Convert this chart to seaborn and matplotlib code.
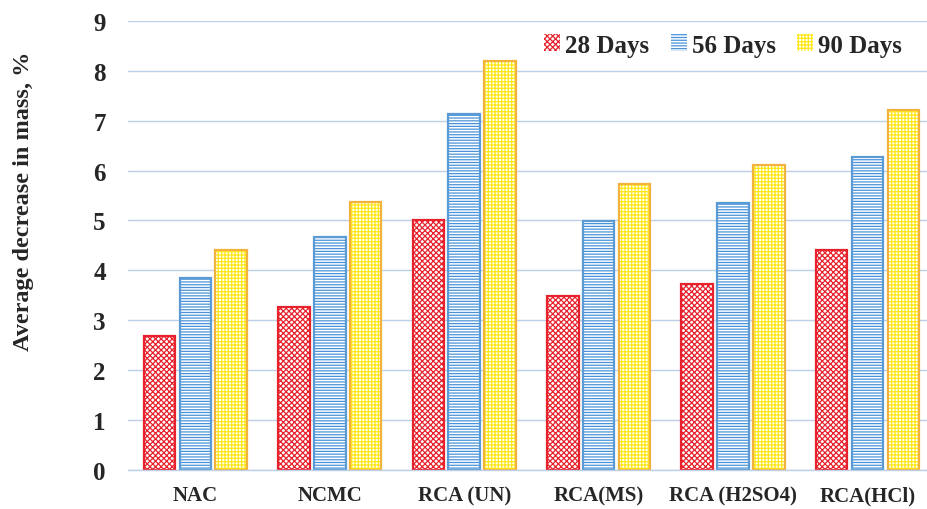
import matplotlib
matplotlib.use("Agg")
import matplotlib.pyplot as plt
from matplotlib.patches import Patch
import seaborn as sns
import pandas as pd

# Mix designs and average mass loss (%) at each exposure age
mixes = ["NAC", "NCMC", "RCA (UN)", "RCA(MS)", "RCA (H2SO4)", "RCA(HCl)"]
ages = ["28 Days", "56 Days", "90 Days"]
loss_28 = [2.69, 3.27, 5.01, 3.48, 3.73, 4.41]
loss_56 = [3.84, 4.67, 7.14, 4.98, 5.34, 6.27]
loss_90 = [4.41, 5.37, 8.20, 5.73, 6.12, 7.21]
y_ticks = [0, 1, 2, 3, 4, 5, 6, 7, 8, 9]

hatch_colors = ["#E8222C", "#4A93DA", "#FFE81A"]
edge_colors = ["#E8222C", "#5B9BD5", "#F2B23E"]
hatches = ["xxxxxx", "------", "+++++"]

df = pd.DataFrame({
    "mix": mixes * 3,
    "age": [a for a in ages for _ in mixes],
    "loss": loss_28 + loss_56 + loss_90,
})

sns.set_theme(style="white")
plt.rcParams["font.family"] = ["Liberation Serif", "DejaVu Serif"]
plt.rcParams["font.weight"] = "bold"
plt.rcParams["hatch.linewidth"] = 0.9

fig = plt.figure(figsize=(9.28, 5.10), dpi=100)
ax = fig.add_axes([0.138, 0.077, 0.862, 0.880])

# hatched fill
sns.barplot(data=df, x="mix", y="loss", hue="age", hue_order=ages,
            palette=hatch_colors, width=0.8, gap=0.12, ax=ax,
            legend=False, errorbar=None, linewidth=0)
for cont, hc, h in zip(ax.containers[:3], hatch_colors, hatches):
    for bar in cont:
        bar.set_facecolor("white")
        bar.set_edgecolor(hc)
        bar.set_hatch(h)
        bar.set_linewidth(0)

# coloured outlines
sns.barplot(data=df, x="mix", y="loss", hue="age", hue_order=ages,
            palette=edge_colors, width=0.8, gap=0.12, ax=ax,
            legend=False, errorbar=None, fill=False, linewidth=1.6)

ax.set_ylim(0, 9)
ax.set_xlim(-0.5, 5.45)
ax.set_yticks(y_ticks)
ax.set_yticklabels([str(t) for t in y_ticks], fontsize=18, fontweight="bold")
ax.set_xticks(range(len(mixes)))
ax.set_xticklabels(mixes, fontsize=15, fontweight="bold")
ax.tick_params(axis="y", length=0, pad=16)
ax.tick_params(axis="x", length=0, pad=11)
ax.yaxis.grid(True, color="#BCD0E8", linewidth=1.0)
ax.set_axisbelow(True)
for side in ["left", "right", "top"]:
    ax.spines[side].set_visible(False)
ax.spines["bottom"].set_color("#BCD0E8")
ax.spines["bottom"].set_linewidth(1.0)
ax.set_xlabel("")
ax.set_ylabel("Average decrease in mass, %", fontsize=17.5, fontweight="bold")
ax.yaxis.set_label_coords(-0.118, 0.60)

handles = [Patch(facecolor="white", edgecolor=hc, hatch=h, linewidth=0)
           for hc, h in zip(hatch_colors, hatches)]
leg = ax.legend(handles, ages, loc="upper right", bbox_to_anchor=(0.996, 1.022),
                ncol=3, frameon=False, handlelength=0.65, handleheight=0.65,
                handletextpad=0.2, columnspacing=0.85,
                prop={"family": "Liberation Serif", "weight": "bold", "size": 18})

fig.savefig("out.png", dpi=100)
